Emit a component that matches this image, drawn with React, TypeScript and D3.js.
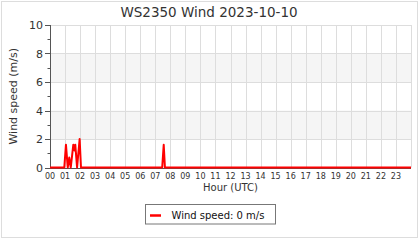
import React from "react";
import * as d3 from "d3";

const title = "WS2350 Wind 2023-10-10";
const yLabel = "Wind speed (m/s)";
const xLabel = "Hour (UTC)";
const legendLabel = "Wind speed: 0 m/s";

const hourTicks = d3.range(0, 24).map((h) => (h < 10 ? "0" + h : "" + h));
const yTicks = [0, 2, 4, 6, 8, 10];
const yMinorTicks = [1, 3, 5, 7, 9];
const bands = [[2, 4], [6, 8]];

const times = [0, 0.95, 1.06, 1.18, 1.28, 1.38, 1.55, 1.62, 1.68, 1.8, 1.97, 2.06, 7.46, 7.56, 7.64, 24];
const speeds = [0, 0, 1.6, 0, 0.7, 0, 1.6, 1.2, 1.6, 0, 2.0, 0, 0, 1.6, 0, 0];

const W = 420;
const H = 240;
const left = 50;
const right = 411;
const top = 25;
const bottom = 167.5;
const font = "DejaVu Sans, sans-serif";

export default function App() {
  const x = d3.scaleLinear().domain([0, 24]).range([left, right]);
  const y = d3.scaleLinear().domain([0, 10]).range([bottom, top]);
  const pts = times.map((t, i) => [t, speeds[i]] as [number, number]);
  const line = d3
    .line<[number, number]>()
    .x((d) => x(d[0]))
    .y((d) => y(d[1]));

  return (
    <svg
      width={W}
      height={H}
      style={{ position: "absolute", left: 0, top: 0, background: "#fff" }}
      fontFamily={font}
    >
      <rect x={1.5} y={1.5} width={416} height={236} fill="#fff" stroke="#ddd" />
      {bands.map((b, i) => (
        <rect key={i} x={left} y={y(b[1])} width={right - left} height={y(b[0]) - y(b[1])} fill="#f5f5f5" />
      ))}
      {d3.range(0, 25).map((h) => (
        <line key={"v" + h} x1={Math.round(x(h)) + 0.5} x2={Math.round(x(h)) + 0.5} y1={top} y2={bottom} stroke="#dddddd" />
      ))}
      {yTicks.map((v) => (
        <line key={"h" + v} x1={left} x2={right} y1={Math.round(y(v)) + 0.5} y2={Math.round(y(v)) + 0.5} stroke="#dddddd" />
      ))}
      <line x1={left + 0.5} x2={left + 0.5} y1={top} y2={169} stroke="#555" />
      <line x1={left} x2={right} y1={168.5} y2={168.5} stroke="#555" />
      {yTicks.map((v) => (
        <g key={"yt" + v}>
          <line x1={45} x2={left} y1={Math.round(y(v)) + 0.5} y2={Math.round(y(v)) + 0.5} stroke="#555" />
          <text x={43} y={y(v) + 4} textAnchor="end" fontSize={11} fill="#333">
            {v}
          </text>
        </g>
      ))}
      {yMinorTicks.map((v) => (
        <line key={"ym" + v} x1={47.5} x2={left} y1={Math.round(y(v)) + 0.5} y2={Math.round(y(v)) + 0.5} stroke="#555" />
      ))}
      {hourTicks.map((lab, i) => (
        <text key={"xt" + i} x={x(i)} y={179} textAnchor="middle" fontSize={8} fill="#333">
          {lab}
        </text>
      ))}
      <path d={line(pts) || ""} fill="none" stroke="#ff0000" strokeWidth={2} strokeLinejoin="round" />
      <text x={209} y={17} textAnchor="middle" fontSize={13.5} fill="#333">
        {title}
      </text>
      <text x={(left + right) / 2} y={191} textAnchor="middle" fontSize={10} fill="#333">
        {xLabel}
      </text>
      <text transform={`translate(17,${(top + bottom) / 2}) rotate(-90)`} textAnchor="middle" fontSize={11} fill="#333">
        {yLabel}
      </text>
      <rect x={145.5} y={204.5} width={130} height={19.5} fill="#fff" stroke="#777" />
      <line x1={150} x2={161} y1={215.5} y2={215.5} stroke="#ff0000" strokeWidth={2.5} />
      <text x={171.5} y={218.5} fontSize={10} fill="#111">
        {legendLabel}
      </text>
    </svg>
  );
}
